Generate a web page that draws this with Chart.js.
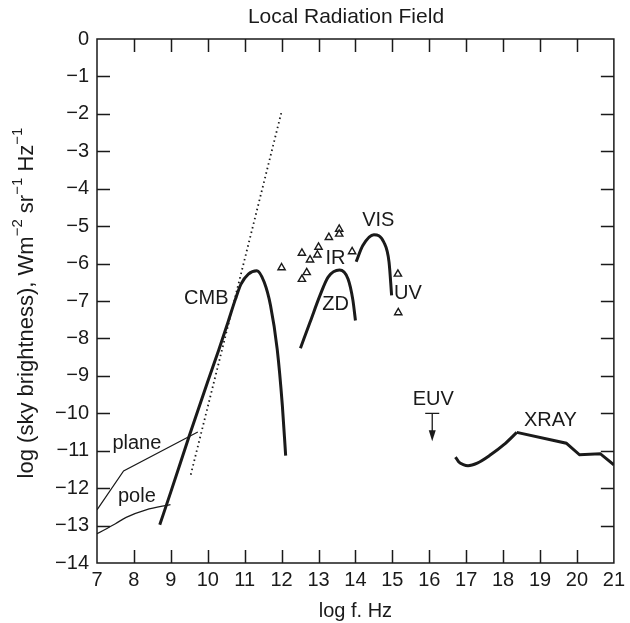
<!DOCTYPE html>
<html>
<head>
<meta charset="utf-8">
<script src="https://cdn.jsdelivr.net/npm/chart.js@4.4.1/dist/chart.umd.min.js"></script>
<style>
  html, body { margin: 0; padding: 0; background: #fff; }
  #wrap { width: 630px; height: 623px; }
</style>
</head>
<body>
<div id="wrap"><canvas id="chart" width="630" height="623"></canvas></div>
<script>
// log f (Hz) / log brightness
const cmbLogF = [8.7, 9.0, 9.5, 10.0, 10.3, 10.55, 10.75, 10.9, 11.1, 11.33, 11.53, 11.7, 11.88, 12.02, 12.11];
const cmbLogB = [-12.98, -12.1, -10.6, -9.15, -8.3, -7.56, -6.95, -6.55, -6.28, -6.19, -6.5, -7.12, -8.28, -9.79, -11.13];

const rjLogF = [9.54, 11.99];
const rjLogB = [-11.64, -1.98];

const planeLogF = [7, 7.72, 9.73];
const planeLogB = [-12.58, -11.54, -10.5];

const poleLogF = [7, 7.5, 7.79, 8.33, 8.99];
const poleLogB = [-13.22, -12.95, -12.78, -12.58, -12.44];

const zdLogF = [12.51, 12.77, 13.04, 13.26, 13.57, 13.8, 13.93, 14.0];
const zdLogB = [-8.26, -7.57, -6.85, -6.36, -6.17, -6.41, -6.97, -7.52];

const visLogF = [14.02, 14.2, 14.5, 14.77, 14.91, 14.98];
const visLogB = [-5.95, -5.52, -5.23, -5.43, -5.96, -6.85];

const irLogF = [12.0, 12.55, 12.77, 13.0, 12.97, 13.28, 13.56, 13.56, 12.68, 12.55, 13.91, 15.15, 15.16];
const irLogB = [-6.11, -5.72, -5.9, -5.56, -5.77, -5.3, -5.08, -5.21, -6.24, -6.42, -5.68, -6.28, -7.31];

const xrayCurveLogF = [16.71, 16.8, 16.92, 17.05, 17.3, 17.66, 18.02, 18.37];
const xrayCurveLogB = [-11.17, -11.3, -11.37, -11.4, -11.33, -11.11, -10.84, -10.51];
const xrayLineLogF = [18.37, 19.71, 20.07, 20.63, 21.0];
const xrayLineLogB = [-10.51, -10.8, -11.11, -11.08, -11.38];

// EUV upper limit: bar and arrow
const euvLogF = 16.08;
const euvLimit = -10.0;
const euvArrowTip = -10.75;
const euvBarHalf = 0.19;

const labelText = ['CMB', 'IR', 'ZD', 'VIS', 'UV', 'EUV', 'XRAY', 'plane', 'pole'];
const labelLogF = [9.96, 13.46, 13.46, 14.62, 15.42, 16.11, 19.28, 8.08, 8.08];
const labelLogB = [-6.94, -5.86, -7.08, -4.85, -6.81, -9.64, -10.19, -10.81, -12.22];

const xTicks = [7, 8, 9, 10, 11, 12, 13, 14, 15, 16, 17, 18, 19, 20, 21];
const yTicks = [0, -1, -2, -3, -4, -5, -6, -7, -8, -9, -10, -11, -12, -13, -14];

const FONT = '"Liberation Sans", Arial, Helvetica, sans-serif';
const INK = '#1a1a1a';

function pts(xs, ys) {
  return xs.map((x, i) => ({ x, y: ys[i] }));
}
function minus(v) {
  return v < 0 ? '\u2212' + Math.abs(v) : String(v);
}

const decor = {
  id: 'decor',
  afterDatasetsDraw(chart) {
    const { ctx, chartArea: a, scales: { x, y } } = chart;
    ctx.save();
    // frame
    ctx.strokeStyle = INK;
    ctx.lineWidth = 1.5;
    ctx.strokeRect(a.left, a.top, a.right - a.left, a.bottom - a.top);
    // inward ticks on all sides
    const tl = 13;
    ctx.beginPath();
    xTicks.slice(1, -1).forEach(v => {
      const px = Math.round(x.getPixelForValue(v)) + 0.5;
      ctx.moveTo(px, a.bottom); ctx.lineTo(px, a.bottom - tl);
      ctx.moveTo(px, a.top); ctx.lineTo(px, a.top + tl);
    });
    yTicks.slice(1, -1).forEach(v => {
      const py = Math.round(y.getPixelForValue(v)) + 0.5;
      ctx.moveTo(a.left, py); ctx.lineTo(a.left + tl, py);
      ctx.moveTo(a.right, py); ctx.lineTo(a.right - tl, py);
    });
    ctx.stroke();

    // EUV upper limit
    const ex = x.getPixelForValue(euvLogF);
    const ey0 = y.getPixelForValue(euvLimit);
    const ey1 = y.getPixelForValue(euvArrowTip);
    ctx.lineWidth = 1.3;
    ctx.beginPath();
    ctx.moveTo(x.getPixelForValue(euvLogF - euvBarHalf), ey0);
    ctx.lineTo(x.getPixelForValue(euvLogF + euvBarHalf), ey0);
    ctx.moveTo(ex, ey0);
    ctx.lineTo(ex, ey1 - 6);
    ctx.stroke();
    ctx.fillStyle = INK;
    ctx.beginPath();
    ctx.moveTo(ex, ey1);
    ctx.lineTo(ex - 3.5, ey1 - 11);
    ctx.lineTo(ex + 3.5, ey1 - 11);
    ctx.closePath();
    ctx.fill();

    // curve labels
    ctx.font = '20px ' + FONT;
    ctx.textAlign = 'center';
    ctx.textBaseline = 'middle';
    labelText.forEach((t, i) => {
      ctx.fillText(t, x.getPixelForValue(labelLogF[i]), y.getPixelForValue(labelLogB[i]));
    });

    // title
    ctx.font = '21px ' + FONT;
    ctx.fillText('Local Radiation Field', 346, 17);

    // y axis title with superscripts
    const parts = [
      ['log (sky brightness), Wm', false], ['\u22122', true], [' sr', false],
      ['\u22121', true], [' Hz', false], ['\u22121', true]
    ];
    const big = '22px ' + FONT, small = '15px ' + FONT;
    let total = 0;
    parts.forEach(([t, sup]) => { ctx.font = sup ? small : big; total += ctx.measureText(t).width; });
    ctx.translate(27, (a.top + a.bottom) / 2 + 2);
    ctx.rotate(-Math.PI / 2);
    ctx.textAlign = 'left';
    let cx = -total / 2;
    parts.forEach(([t, sup]) => {
      ctx.font = sup ? small : big;
      ctx.fillText(t, cx, sup ? -9 : 0);
      cx += ctx.measureText(t).width;
    });
    ctx.restore();
  }
};

const lineSet = (label, data, width, extra) => Object.assign({
  label, data, showLine: true, borderColor: INK, borderWidth: width,
  pointRadius: 0, fill: false, tension: 0
}, extra || {});

new Chart(document.getElementById('chart'), {
  type: 'scatter',
  data: {
    datasets: [
      lineSet('CMB', pts(cmbLogF, cmbLogB), 3, { cubicInterpolationMode: 'monotone' }),
      lineSet('Rayleigh-Jeans', pts(rjLogF, rjLogB), 1.8, { borderDash: [1.5, 3.2] }),
      lineSet('plane', pts(planeLogF, planeLogB), 1.2),
      lineSet('pole', pts(poleLogF, poleLogB), 1.2, { cubicInterpolationMode: 'monotone' }),
      lineSet('ZD', pts(zdLogF, zdLogB), 3, { cubicInterpolationMode: 'monotone' }),
      lineSet('VIS', pts(visLogF, visLogB), 3, { cubicInterpolationMode: 'monotone' }),
      lineSet('XRAY', pts(xrayCurveLogF, xrayCurveLogB), 3, { cubicInterpolationMode: 'monotone' }),
      lineSet('XRAY2', pts(xrayLineLogF, xrayLineLogB), 3),
      {
        label: 'IR', data: pts(irLogF, irLogB), showLine: false,
        pointStyle: 'triangle', pointRadius: 4.2, borderWidth: 1.4,
        borderColor: INK, backgroundColor: '#fff'
      }
    ]
  },
  options: {
    responsive: false,
    animation: false,
    events: [],
    layout: { padding: { top: 39, right: 8, left: 0, bottom: 0 } },
    plugins: { legend: { display: false }, tooltip: { enabled: false } },
    scales: {
      x: {
        type: 'linear', min: 7, max: 21,
        afterFit: s => { s.height = 60; },
        afterBuildTicks: s => { s.ticks = xTicks.map(v => ({ value: v })); },
        ticks: { font: { size: 20, family: FONT }, color: INK, padding: 5, maxRotation: 0, callback: v => minus(v) },
        grid: { display: false, drawTicks: false },
        border: { display: false },
        title: { display: true, text: 'log f. Hz', font: { size: 20, family: FONT }, color: INK, padding: { top: 0, bottom: 0 } }
      },
      y: {
        type: 'linear', min: -14, max: 0,
        afterFit: s => { s.width = 97; },
        afterBuildTicks: s => { s.ticks = yTicks.map(v => ({ value: v })); },
        ticks: { font: { size: 20, family: FONT }, color: INK, padding: 8, callback: v => minus(v) },
        grid: { display: false, drawTicks: false },
        border: { display: false }
      }
    }
  },
  plugins: [decor]
});
</script>
</body>
</html>
